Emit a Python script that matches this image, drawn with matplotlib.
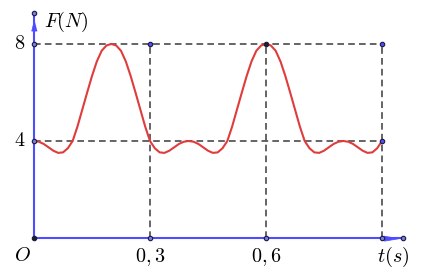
import matplotlib
matplotlib.use("Agg")
import matplotlib.pyplot as plt

plt.rcParams['mathtext.fontset'] = 'cm'

# force curve, F in newtons, t in seconds
t = [0.0, 0.0125, 0.025, 0.0375, 0.05, 0.0625, 0.075, 0.0875,
     0.1, 0.1125, 0.125, 0.1375, 0.15, 0.1625, 0.175, 0.1875,
     0.2, 0.2125, 0.225, 0.2375, 0.25, 0.2625, 0.275, 0.2875,
     0.3, 0.3125, 0.325, 0.3375, 0.35, 0.3625, 0.375, 0.3875,
     0.4, 0.4125, 0.425, 0.4375, 0.45, 0.4625, 0.475, 0.4875,
     0.5, 0.5125, 0.525, 0.5375, 0.55, 0.5625, 0.575, 0.5875,
     0.6, 0.6125, 0.625, 0.6375, 0.65, 0.6625, 0.675, 0.6875,
     0.7, 0.7125, 0.725, 0.7375, 0.75, 0.7625, 0.775, 0.7875,
     0.8, 0.8125, 0.825, 0.8375, 0.85, 0.8625, 0.875, 0.8875, 0.9]
F = [4.0, 3.97, 3.88, 3.74, 3.6, 3.51, 3.53, 3.7,
     4.0, 4.6, 5.3, 6.0, 6.68, 7.28, 7.72, 7.94,
     8.0, 7.94, 7.72, 7.28, 6.68, 6.0, 5.3, 4.6,
     4.0, 3.7, 3.53, 3.51, 3.6, 3.74, 3.88, 3.97,
     4.0, 3.97, 3.88, 3.74, 3.6, 3.51, 3.53, 3.7,
     4.0, 4.6, 5.3, 6.0, 6.68, 7.28, 7.72, 7.94,
     8.0, 7.94, 7.72, 7.28, 6.68, 6.0, 5.3, 4.6,
     4.0, 3.7, 3.53, 3.51, 3.6, 3.74, 3.88, 3.97,
     4.0, 3.97, 3.88, 3.74, 3.6, 3.51, 3.53, 3.7, 4.0]

t_ticks = [0.3, 0.6, 0.9]
t_labels = [r'$0,3$', r'$0,6$']
F_ticks = [4, 8]
F_labels = [r'$4$', r'$8$']
t_end = 0.9

blue = '#4d4dff'
grid_c = '#4a4a4a'
red = '#e03c3c'
edge = '#1a1a40'

fig = plt.figure(figsize=(4.31, 2.72), dpi=100)
ax = fig.add_axes([0, 0, 1, 1])
ax.set_xlim(-0.0879, 1.0267)
ax.set_ylim(-1.402, 9.814)
ax.axis('off')

# dashed guide lines
for f in F_ticks:
    ax.plot([0, t_end], [f, f], color=grid_c, lw=1.2, ls=(0, (4, 2.5)), zorder=1)
for tt in t_ticks:
    ax.plot([tt, tt], [0, max(F_ticks)], color=grid_c, lw=1.2, ls=(0, (4, 2.5)), zorder=1)

# axes with arrows
ax.plot([0, 0], [0, 9.27], color=blue, lw=1.5, zorder=2)
ax.plot([0, 0.953], [0, 0], color=blue, lw=1.5, zorder=2)
ax.plot([0], [8.78], marker=[(0, 1), (-0.5, -1), (0.5, -1)], ms=8,
        color=blue, mec=blue, mew=0.5, zorder=3)
ax.plot([0.926], [0], marker=[(1, 0), (-1, -0.33), (-1, 0.33)], ms=11.5,
        color=blue, mec=blue, mew=0.5, zorder=3)

# the force curve
ax.plot(t, F, color=red, lw=1.5, zorder=4)

# points
pt = dict(ms=3.2, mew=0.8, mec=edge, ls='none', zorder=5)
ax.plot([0, 0, 0.3, 0.6, 0.9], [8, 4, 0, 0, 0], marker='o', mfc='#7a7ae0', **pt)
ax.plot([0, 0.953], [9.27, 0], marker='o', mfc='#7a7ae0', **pt)
ax.plot([0.3, 0.9, 0.9], [8, 8, 4], marker='o', mfc=blue, **pt)
ax.plot([0, 0.6], [0, 8], marker='o', mfc='#202020', **pt)

# labels
fs = 14.5
for f, lab in zip(F_ticks, F_labels):
    ax.text(-0.036, f, lab, fontsize=fs, ha='center', va='center')
for tt, lab in zip(t_ticks, t_labels):
    ax.text(tt, -0.77, lab, fontsize=fs, ha='center', va='center')
ax.text(-0.029, -0.72, r'$O$', fontsize=fs, ha='center', va='center')
ax.text(0.928, -0.8, r'$t(s)$', fontsize=fs, ha='center', va='center')
ax.text(0.0846, 8.92, r'$F(N)$', fontsize=fs, ha='center', va='center')

plt.savefig('out.png', dpi=100)
